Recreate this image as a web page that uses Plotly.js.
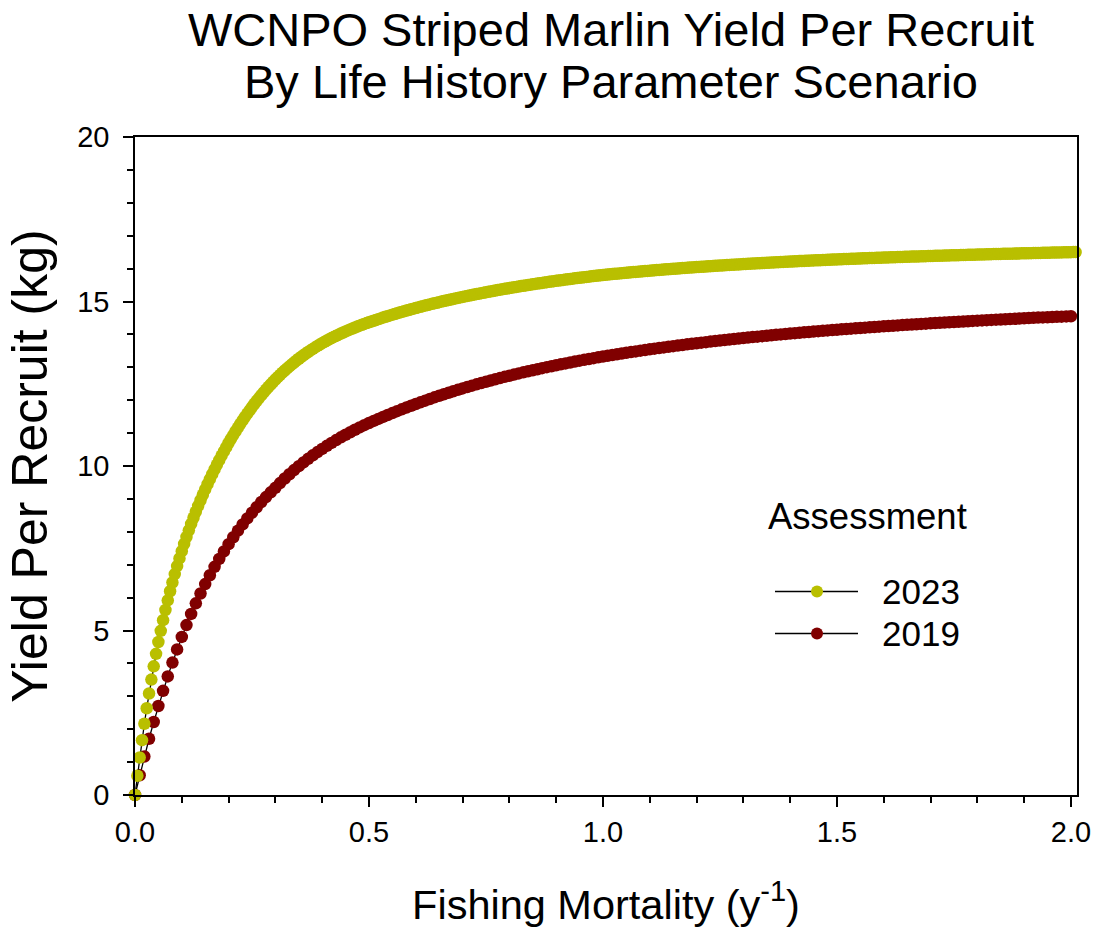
<!DOCTYPE html>
<html>
<head>
<meta charset="utf-8">
<script src="https://cdn.plot.ly/plotly-3.0.1.min.js"></script>
<style>
  html, body { margin: 0; padding: 0; background: #ffffff; }
  #chart { width: 1099px; height: 932px; }
</style>
</head>
<body>
<div id="chart"></div>
<script>
// ---------------- data ----------------
const seriesNames = ['2023', '2019'];
const legendTitle = 'Assessment';
const titleLine1 = 'WCNPO Striped Marlin Yield Per Recruit';
const titleLine2 = 'By Life History Parameter Scenario';
const xTitle = 'Fishing Mortality (y<sup>-1</sup>)';
const yTitle = 'Yield Per Recruit (kg)';
const xTickVals = [0, 0.5, 1.0, 1.5, 2.0];
const xTickText = ['0.0', '0.5', '1.0', '1.5', '2.0'];
const yTickVals = [0, 5, 10, 15, 20];
const yTickText = ['0', '5', '10', '15', '20'];

// fishing mortality grid: start and step of each series
const fStart = 0;
const fStep2023 = 0.005;
const fStep2019 = 0.01;

// yield per recruit (kg), 2023 assessment, F = 0, 0.005, ..., 2.01
const ypr2023 = [
  0, 0.585, 1.14, 1.666, 2.165, 2.638, 3.085, 3.509, 3.91, 4.29, 4.65, 4.991, 5.315, 5.623, 5.915, 6.194, 6.46, 6.714, 6.957, 7.19, 7.412,
  7.631, 7.842, 8.044, 8.239, 8.428, 8.61, 8.788, 8.96, 9.127, 9.29, 9.448, 9.601, 9.751, 9.897, 10.039, 10.178, 10.313, 10.444, 10.572, 10.698,
  10.82, 10.939, 11.055, 11.168, 11.278, 11.386, 11.491, 11.593, 11.693, 11.79, 11.884, 11.976, 12.065, 12.153, 12.237, 12.32, 12.4, 12.478, 12.554, 12.628,
  12.699, 12.769, 12.836, 12.902, 12.966, 13.028, 13.088, 13.147, 13.204, 13.26, 13.314, 13.366, 13.417, 13.466, 13.514, 13.56, 13.605, 13.649, 13.692, 13.733,
  13.773, 13.812, 13.85, 13.887, 13.923, 13.958, 13.992, 14.026, 14.058, 14.09, 14.121, 14.151, 14.18, 14.209, 14.237, 14.265, 14.292, 14.318, 14.344, 14.368,
  14.392, 14.416, 14.44, 14.464, 14.487, 14.51, 14.533, 14.555, 14.577, 14.599, 14.62, 14.641, 14.662, 14.683, 14.703, 14.723, 14.743, 14.763, 14.782, 14.801,
  14.82, 14.839, 14.857, 14.875, 14.893, 14.911, 14.929, 14.946, 14.963, 14.98, 14.997, 15.014, 15.03, 15.046, 15.062, 15.078, 15.094, 15.109, 15.124, 15.139,
  15.154, 15.169, 15.183, 15.197, 15.211, 15.225, 15.239, 15.253, 15.267, 15.281, 15.294, 15.307, 15.32, 15.333, 15.346, 15.359, 15.372, 15.384, 15.396, 15.408,
  15.42, 15.432, 15.444, 15.456, 15.468, 15.479, 15.49, 15.501, 15.512, 15.523, 15.534, 15.545, 15.556, 15.566, 15.576, 15.587, 15.597, 15.607, 15.617, 15.627,
  15.637, 15.647, 15.656, 15.666, 15.675, 15.685, 15.694, 15.703, 15.712, 15.721, 15.73, 15.739, 15.747, 15.756, 15.764, 15.773, 15.781, 15.789, 15.797, 15.805,
  15.812, 15.819, 15.826, 15.833, 15.84, 15.847, 15.854, 15.861, 15.868, 15.874, 15.88, 15.887, 15.893, 15.899, 15.906, 15.912, 15.918, 15.924, 15.93, 15.937,
  15.943, 15.949, 15.954, 15.96, 15.966, 15.971, 15.977, 15.983, 15.988, 15.994, 15.999, 16.004, 16.01, 16.015, 16.02, 16.025, 16.03, 16.036, 16.041, 16.046,
  16.051, 16.056, 16.06, 16.065, 16.07, 16.075, 16.08, 16.084, 16.089, 16.094, 16.098, 16.102, 16.107, 16.111, 16.115, 16.12, 16.124, 16.128, 16.133, 16.137,
  16.141, 16.145, 16.149, 16.153, 16.157, 16.161, 16.165, 16.169, 16.173, 16.177, 16.181, 16.185, 16.188, 16.192, 16.196, 16.199, 16.203, 16.207, 16.21, 16.214,
  16.217, 16.221, 16.224, 16.228, 16.231, 16.234, 16.238, 16.241, 16.244, 16.248, 16.251, 16.254, 16.257, 16.26, 16.264, 16.267, 16.27, 16.273, 16.276, 16.279,
  16.282, 16.285, 16.288, 16.291, 16.294, 16.296, 16.299, 16.302, 16.305, 16.308, 16.311, 16.313, 16.316, 16.319, 16.321, 16.324, 16.327, 16.329, 16.332, 16.335,
  16.337, 16.34, 16.342, 16.345, 16.347, 16.35, 16.352, 16.355, 16.357, 16.36, 16.362, 16.364, 16.367, 16.369, 16.371, 16.374, 16.376, 16.378, 16.381, 16.383,
  16.385, 16.387, 16.39, 16.392, 16.394, 16.396, 16.398, 16.401, 16.403, 16.405, 16.407, 16.409, 16.411, 16.413, 16.415, 16.418, 16.42, 16.422, 16.424, 16.426,
  16.428, 16.43, 16.432, 16.434, 16.436, 16.438, 16.44, 16.442, 16.444, 16.446, 16.448, 16.45, 16.452, 16.453, 16.455, 16.457, 16.459, 16.461, 16.463, 16.465,
  16.467, 16.468, 16.47, 16.472, 16.474, 16.476, 16.477, 16.479, 16.481, 16.483, 16.484, 16.486, 16.488, 16.49, 16.491, 16.493, 16.495, 16.496, 16.498, 16.5,
  16.502, 16.503
];

// yield per recruit (kg), 2019 assessment, F = 0, 0.01, ..., 2.0
const ypr2019 = [
  0, 0.6, 1.17, 1.71, 2.22, 2.705, 3.165, 3.605, 4.025, 4.425, 4.805,
  5.165, 5.505, 5.825, 6.125, 6.41, 6.68, 6.935, 7.175, 7.405, 7.625,
  7.835, 8.035, 8.225, 8.407, 8.581, 8.747, 8.905, 9.056, 9.2, 9.337,
  9.481, 9.619, 9.75, 9.875, 9.995, 10.109, 10.218, 10.323, 10.423, 10.519,
  10.612, 10.702, 10.788, 10.871, 10.951, 11.027, 11.101, 11.172, 11.24, 11.306,
  11.37, 11.432, 11.492, 11.551, 11.609, 11.666, 11.722, 11.777, 11.831, 11.884,
  11.936, 11.987, 12.037, 12.086, 12.134, 12.181, 12.227, 12.272, 12.316, 12.359,
  12.401, 12.442, 12.482, 12.522, 12.561, 12.599, 12.636, 12.673, 12.709, 12.744,
  12.779, 12.813, 12.846, 12.879, 12.911, 12.942, 12.973, 13.003, 13.033, 13.062,
  13.091, 13.119, 13.147, 13.174, 13.201, 13.227, 13.253, 13.278, 13.303, 13.327,
  13.351, 13.374, 13.397, 13.419, 13.441, 13.463, 13.484, 13.505, 13.526, 13.546,
  13.566, 13.586, 13.605, 13.624, 13.643, 13.661, 13.679, 13.697, 13.714, 13.731,
  13.748, 13.765, 13.781, 13.797, 13.813, 13.829, 13.844, 13.859, 13.874, 13.889,
  13.904, 13.918, 13.932, 13.946, 13.96, 13.973, 13.986, 13.999, 14.012, 14.025,
  14.038, 14.05, 14.062, 14.074, 14.086, 14.098, 14.109, 14.12, 14.131, 14.142,
  14.153, 14.164, 14.175, 14.185, 14.195, 14.205, 14.215, 14.225, 14.235, 14.245,
  14.255, 14.264, 14.273, 14.282, 14.291, 14.3, 14.309, 14.318, 14.327, 14.336,
  14.345, 14.353, 14.361, 14.369, 14.377, 14.385, 14.393, 14.401, 14.409, 14.417,
  14.425, 14.433, 14.44, 14.447, 14.454, 14.461, 14.468, 14.475, 14.482, 14.489,
  14.496, 14.503, 14.51, 14.516, 14.522, 14.528, 14.534, 14.54, 14.546, 14.552
];

// ---------------- styling ----------------
const FONT = 'Liberation Sans, Arial, Helvetica, sans-serif';
const color2023 = '#B9BF00';
const color2019 = '#800000';
const MARKER_SIZE = 12.5;

const traces = [
  {
    type: 'scatter', mode: 'lines+markers', name: seriesNames[1],
    x0: fStart, dx: fStep2019, y: ypr2019,
    line: { color: '#000000', width: 1.3 },
    marker: { color: color2019, size: MARKER_SIZE, line: { width: 0 } },
    cliponaxis: false, showlegend: false
  },
  {
    type: 'scatter', mode: 'lines+markers', name: seriesNames[0],
    x0: fStart, dx: fStep2023, y: ypr2023,
    line: { color: '#000000', width: 1.3 },
    marker: { color: color2023, size: MARKER_SIZE, line: { width: 0 } },
    cliponaxis: false, showlegend: false
  }
];

const axisCommon = {
  showline: true, linecolor: '#000000', linewidth: 1.5, mirror: true,
  showgrid: false, zeroline: false,
  ticks: 'outside', ticklen: 10, tickwidth: 1.5, tickcolor: '#000000',
  tickfont: { family: FONT, size: 29, color: '#000000' },
  automargin: false
};

// legend drawn as a key in paper space (symbol + label per series)
const legendX = { lineStart: 0.6794, lineEnd: 0.7675, dot: 0.724, text: 0.7909, title: 0.7776 };
const legendY = { title: 0.4225, rows: [0.3093, 0.2454] };
const legendColors = [color2023, color2019];

const shapes = [];
const legendAnnotations = [
  { text: legendTitle, x: legendX.title, y: legendY.title, xanchor: 'center', yanchor: 'middle',
    font: { family: FONT, size: 36.5, color: '#000000' } }
];
seriesNames.forEach(function (name, i) {
  const yy = legendY.rows[i];
  shapes.push({ type: 'line', xref: 'paper', yref: 'paper', x0: legendX.lineStart, x1: legendX.lineEnd, y0: yy, y1: yy,
    line: { color: '#000000', width: 1.5 } });
  shapes.push({ type: 'circle', xref: 'paper', yref: 'paper', xsizemode: 'pixel', ysizemode: 'pixel',
    xanchor: legendX.dot, yanchor: yy, x0: -6, x1: 6, y0: -6, y1: 6,
    fillcolor: legendColors[i], line: { width: 0 } });
  legendAnnotations.push({ text: name, x: legendX.text, y: yy, xanchor: 'left', yanchor: 'middle',
    font: { family: FONT, size: 35, color: '#000000' } });
});

const layout = {
  width: 1099, height: 932,
  margin: { l: 135, r: 22, t: 137, b: 137, pad: 0 },
  paper_bgcolor: '#ffffff', plot_bgcolor: '#ffffff',
  font: { family: FONT, color: '#000000' },
  showlegend: false,
  title: {
    text: titleLine1,
    font: { family: FONT, size: 47, color: '#000000' },
    x: 0.556, xanchor: 'center', xref: 'container',
    y: 0.9678, yanchor: 'middle', yref: 'container'
  },
  xaxis: Object.assign({}, axisCommon, {
    range: [0, 2.013],
    tickmode: 'array', tickvals: xTickVals, ticktext: xTickText,
    minor: { tickmode: 'linear', tick0: 0, dtick: 0.1, ticks: 'outside', ticklen: 6, tickwidth: 1.5, tickcolor: '#000000', showgrid: false },
    title: { text: xTitle, font: { family: FONT, size: 41.5, color: '#000000' }, standoff: 43 }
  }),
  yaxis: Object.assign({}, axisCommon, {
    range: [0, 20],
    tickmode: 'array', tickvals: yTickVals, ticktext: yTickText,
    ticklabelstandoff: 8,
    minor: { tickmode: 'linear', tick0: 0, dtick: 1, ticks: 'outside', ticklen: 6, tickwidth: 1.5, tickcolor: '#000000', showgrid: false },
    title: { text: yTitle, font: { family: FONT, size: 50, color: '#000000' }, standoff: 14 }
  }),
  shapes: shapes,
  annotations: [
    { text: titleLine2, xref: 'paper', yref: 'paper', x: 0.5056, y: 1.0851, xanchor: 'center', yanchor: 'middle',
      showarrow: false, font: { family: FONT, size: 47, color: '#000000' } }
  ].concat(legendAnnotations.map(function (a) {
    return Object.assign({ xref: 'paper', yref: 'paper', showarrow: false }, a);
  }))
};

Plotly.newPlot('chart', traces, layout, { displayModeBar: false, responsive: false });
</script>
</body>
</html>
